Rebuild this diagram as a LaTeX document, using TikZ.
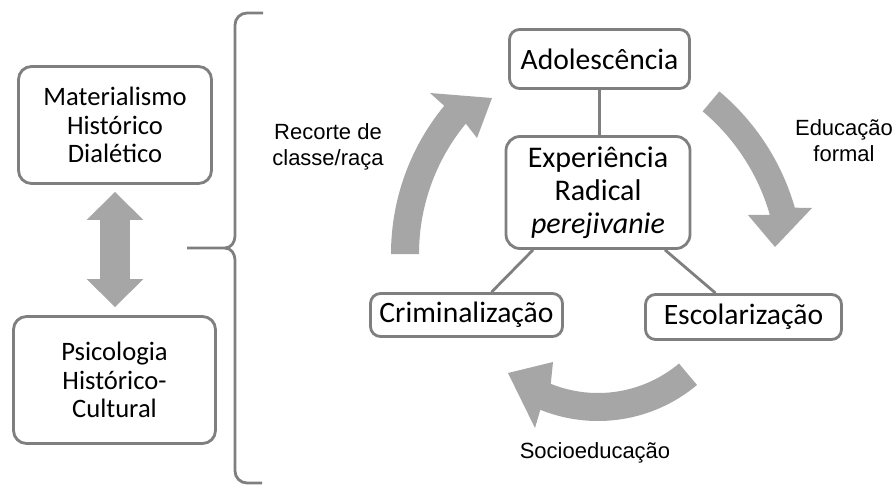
\documentclass[tikz,border=0pt]{standalone}
\usepackage{fontspec}
\setmainfont{Carlito}
\newfontfamily\labfont{Liberation Sans}
\usetikzlibrary{arrows.meta,calc}
\definecolor{bordergray}{RGB}{127,127,127}
\definecolor{arrowgray}{RGB}{166,166,166}
\begin{document}
\begin{tikzpicture}[x=1pt,y=1pt,
  box/.style={draw=bordergray, line width=2.8pt, fill=white, align=center, inner sep=0pt, text=black},
  leftbox/.style={box, rounded corners=13pt, font=\fontsize{26.6}{28.8}\selectfont},
  rightbox/.style={box, rounded corners=10pt, font=\fontsize{29.6}{33}\selectfont},
  link/.style={draw=bordergray, line width=2.8pt},
  lab/.style={font=\labfont\fontsize{22}{26}\selectfont, align=center, text=black, inner sep=0pt},
  bigarrow/.style={fill=arrowgray, draw=none},
  bracestyle/.style={draw=bordergray, line width=2.8pt, line join=round}]
\useasboundingbox (0,0) rectangle (894,-485);

% left boxes
\node[leftbox, minimum width=193pt, minimum height=117pt] (mat) at (115,-125) {Materialismo\\Histórico\\Dialético};
\node[leftbox, minimum width=202pt, minimum height=127pt] (psi) at (114.5,-380) {Psicologia\\Histórico-\\Cultural};

% double arrow between left boxes
\draw[arrowgray, line width=30pt,
  {Triangle[width=55pt,length=28pt]}-{Triangle[width=55pt,length=28pt]},
  shorten <=7pt, shorten >=8pt] (mat.south) -- (mat.south |- psi.north);

% brace
\draw[bracestyle] (263,-13) -- (247,-13) to[out=180,in=90] (235,-25) -- (235,-236)
  to[out=-90,in=0] (225,-248) -- (187,-248);
\draw[bracestyle] (225,-248) to[out=0,in=90] (235,-260) -- (235,-471)
  to[out=-90,in=180] (247,-483) -- (262,-483);

% right nodes
\node[rightbox, minimum width=180pt, minimum height=59pt] (ado) at (599.5,-59) {Adolescência};
\node[rightbox, font=\fontsize{30}{33}\selectfont, rounded corners=14pt, minimum width=184pt, minimum height=112pt] (exp) at (598,-192.5) {Experiência\\Radical\\\textit{perejivanie}};
\node[rightbox, minimum width=192pt, minimum height=43pt] (crim) at (466.5,-315) {Criminalização};
\node[rightbox, minimum width=196pt, minimum height=45pt] (esc) at (743.5,-317) {Escolarização};

% connectors
\draw[link] (ado.south) -- (ado.south |- exp.north);
\draw[link] ([xshift=-65pt]exp.south) -- ([xshift=25pt]crim.north);
\draw[link] ([xshift=67pt]exp.south) -- ([xshift=-28pt]esc.north);

% curved arrows
\coordinate (Lc) at (624,-254);
\fill[bigarrow] ($(Lc)+(180:205pt)$) -- ($(Lc)+(180:233pt)$)
  arc[start angle=180, end angle=140.5, radius=233pt]
  -- (430,-93) -- (492,-98) -- (477,-138)
  -- ($(Lc)+(140.5:205pt)$) arc[start angle=140.5, end angle=180, radius=205pt] -- cycle;

\coordinate (Rc) at (567,-273);
\fill[bigarrow] ($(Rc)+(50:211pt)$) -- ($(Rc)+(50:237pt)$)
  arc[start angle=50, end angle=16, radius=237pt]
  -- (812,-208) -- (775,-247) -- (748,-215)
  -- ($(Rc)+(16:211pt)$) arc[start angle=16, end angle=50, radius=211pt] -- cycle;

\coordinate (Bc) at (598,-267);
\fill[bigarrow] ($(Bc)+(-50:126pt)$) -- ($(Bc)+(-50:154pt)$)
  arc[start angle=-50, end angle=-112, radius=154pt]
  -- (535,-428) -- (508,-373) -- (553,-362)
  -- ($(Bc)+(-112:126pt)$) arc[start angle=-112, end angle=-50, radius=126pt] -- cycle;

% labels
\node[lab] (rec) at (328,-147) {Recorte de\\classe/raça};
\node[lab] (edu) at (844,-141) {Educação\\formal};
\node[lab] (soc) at (595,-453) {Socioeducação};
\end{tikzpicture}
\end{document}
